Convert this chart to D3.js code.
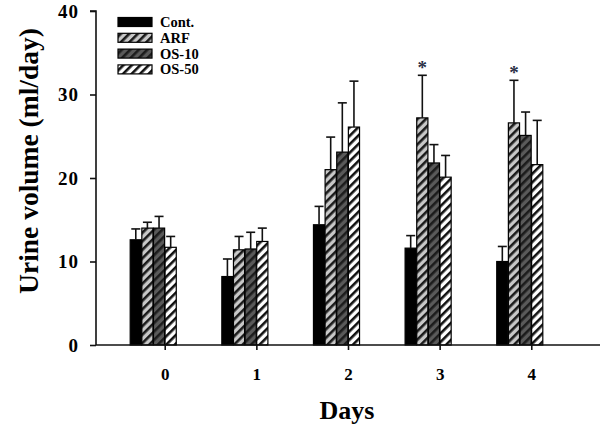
<!DOCTYPE html>
<html><head><meta charset="utf-8">
<script src="https://cdn.jsdelivr.net/npm/d3@7"></script>
<style>body{margin:0;background:#fff}svg{display:block}text{font-family:"Liberation Serif","Times New Roman",serif;font-weight:bold}</style>
</head><body>
<script>
const days = ["0","1","2","3","4"];
const series = ["Cont.","ARF","OS-10","OS-50"];
const contMean = [12.6, 8.2, 14.4, 11.6, 10.0];
const contErr  = [1.3, 2.1, 2.2, 1.5, 1.8];
const arfMean  = [14.0, 11.4, 21.0, 27.2, 26.6];
const arfErr   = [0.7, 1.6, 3.9, 5.1, 5.1];
const os10Mean = [14.0, 11.5, 23.1, 21.8, 25.1];
const os10Err  = [1.4, 2.0, 5.9, 2.2, 2.8];
const os50Mean = [11.7, 12.4, 26.1, 20.1, 21.6];
const os50Err  = [1.3, 1.6, 5.5, 2.6, 5.3];
const yTicks = [0, 10, 20, 30, 40];
const starDays = ["3","4"];

const means = [contMean, arfMean, os10Mean, os50Mean];
const errs = [contErr, arfErr, os10Err, os50Err];
const rows = [];
series.forEach((s, si) => days.forEach((d, di) => rows.push({s, d, di, v: means[si][di], e: errs[si][di]})));

const W = 608, H = 429;
const svg = d3.select("body").append("svg").attr("width", W).attr("height", H);
const defs = svg.append("defs");
function pat(id, bg, fg) {
  const p = defs.append("pattern").attr("id", id).attr("patternUnits", "userSpaceOnUse")
    .attr("width", 6).attr("height", 6).attr("patternTransform", "rotate(45)");
  p.append("rect").attr("width", 6).attr("height", 6).attr("fill", bg);
  p.append("rect").attr("width", 2.6).attr("height", 6).attr("fill", fg);
}
pat("pARF", "#c8c8c8", "#1a1a1a");
pat("pOS10", "#5a5a5a", "#1c1c1c");
pat("pOS50", "#ffffff", "#111111");
const fills = {"Cont.": "#000", "ARF": "url(#pARF)", "OS-10": "url(#pOS10)", "OS-50": "url(#pOS50)"};

const x = d3.scaleLinear().domain([-0.75, 4.75]).range([96, 600]);
const y = d3.scaleLinear().domain([0, 40]).range([345, 11]);
const xs = d3.scaleBand().domain(series).range([-35, 12]).padding(0.04);

// bars
const g = svg.append("g");
g.selectAll("rect.bar").data(rows).join("rect").attr("class", "bar")
  .attr("x", d => x(d.di) + xs(d.s)).attr("width", xs.bandwidth())
  .attr("y", d => y(d.v)).attr("height", d => y(0) - y(d.v))
  .attr("fill", d => fills[d.s]).attr("stroke", "#000").attr("stroke-width", 1.2);

// error bars
const eg = svg.append("g").attr("stroke", "#111").attr("stroke-width", 1.6);
rows.forEach(d => {
  const cx = x(d.di) + xs(d.s) + xs.bandwidth() / 2;
  eg.append("line").attr("x1", cx).attr("x2", cx).attr("y1", y(d.v)).attr("y2", y(d.v + d.e));
  eg.append("line").attr("x1", cx - 4.5).attr("x2", cx + 4.5).attr("y1", y(d.v + d.e)).attr("y2", y(d.v + d.e));
});

// stars
starDays.forEach(sd => {
  const di = days.indexOf(sd);
  const top = arfMean[di] + arfErr[di];
  svg.append("text").attr("x", x(di) + xs("ARF") + xs.bandwidth() / 2).attr("y", y(top) - 1)
    .attr("text-anchor", "middle").attr("font-size", 19).attr("fill", "#2a2f45").text("*");
});

// axes
const ya = svg.append("g").attr("transform", "translate(96,0)")
  .call(d3.axisLeft(y).tickValues(yTicks).tickSize(6).tickPadding(11));
ya.selectAll("text").attr("font-size", 19).attr("fill", "#000").style("letter-spacing", "1px");
const xa = svg.append("g").attr("transform", "translate(0,345)")
  .call(d3.axisBottom(x).tickValues(days.map((d, i) => i)).tickFormat(i => days[i]).tickSize(5).tickPadding(18));
xa.selectAll("text").attr("font-size", 17).attr("fill", "#000");
[ya, xa].forEach(a => { a.selectAll("path,line").attr("stroke", "#111").attr("stroke-width", 1.6); });
xa.select("path.domain").attr("d", "M96,0H600");
ya.select("path.domain").attr("d", "M-6,11H0V345");

// labels
svg.append("text").attr("transform", "translate(38,161) rotate(-90)").attr("text-anchor", "middle")
  .attr("font-size", 27.5).attr("fill", "#000").text("Urine volume (ml/day)");
svg.append("text").attr("x", 347).attr("y", 419).attr("text-anchor", "middle")
  .attr("font-size", 26).attr("fill", "#000").text("Days");

// legend
const lg = svg.append("g");
series.forEach((s, i) => {
  const cy = 22 + i * 15.8;
  lg.append("rect").attr("x", 118).attr("y", cy - 4.5).attr("width", 34).attr("height", 9)
    .attr("fill", fills[s]).attr("stroke", "#000").attr("stroke-width", 1.2);
  lg.append("text").attr("x", 160).attr("y", cy + 5).attr("font-size", 14.5).attr("fill", "#000").text(s);
});
</script>
</body></html>
